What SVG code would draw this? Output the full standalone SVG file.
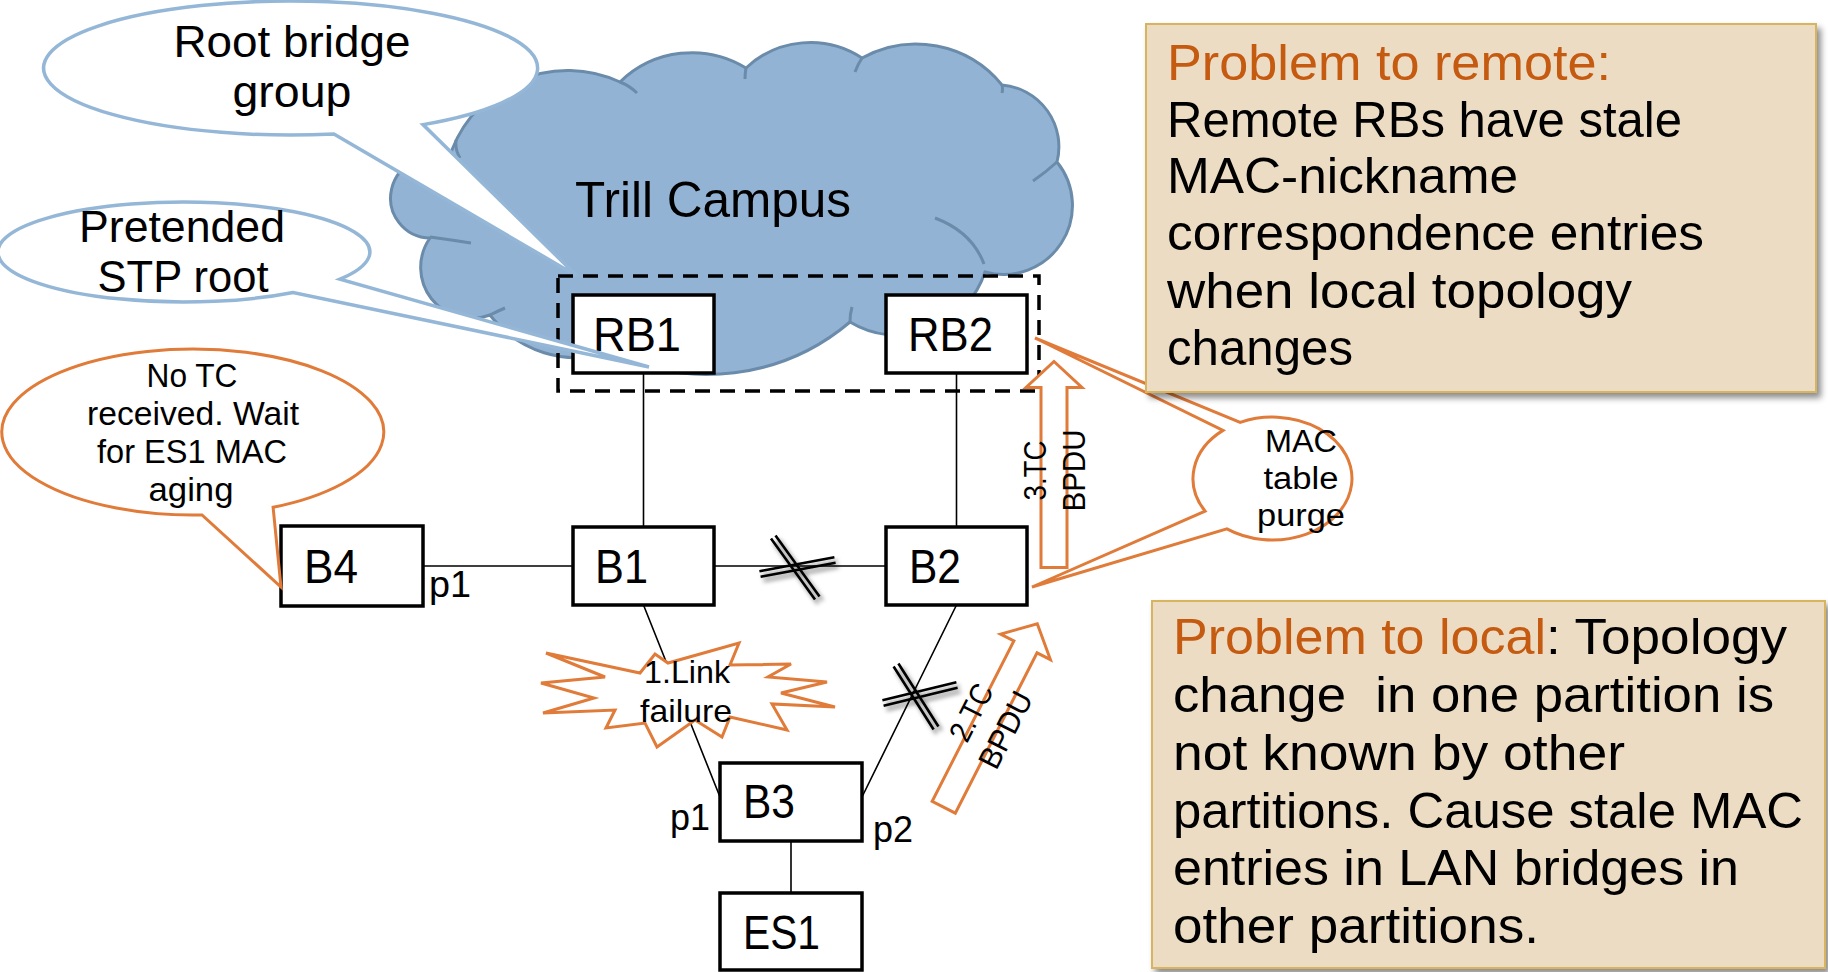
<svg xmlns="http://www.w3.org/2000/svg" width="1828" height="972" viewBox="0 0 1828 972">
<style>
.t{font-family:"Liberation Sans",Arial,sans-serif;fill:#000}
.node{fill:#fff;stroke:#000;stroke-width:3.5}
.conn{fill:none;stroke:#000;stroke-width:1.6}
.blue{fill:#fff;stroke:#95B7D7;stroke-width:3.5;stroke-linejoin:miter}
.org{fill:#fff;stroke:#E07B39;stroke-width:3;stroke-linejoin:miter}
.crease{fill:none;stroke:#6A8BAA;stroke-width:3}
.box{fill:#ECDCC3;stroke:#D9B45E;stroke-width:2}
.title{fill:#C55A11}
.brk{stroke:#000;stroke-width:2.6;fill:none}
</style>
<defs>
<filter id="sh" x="-10%" y="-10%" width="130%" height="130%">
<feDropShadow dx="4" dy="5" stdDeviation="3" flood-color="#000" flood-opacity="0.45"/>
</filter>
<filter id="xs" x="-30%" y="-30%" width="160%" height="160%">
<feDropShadow dx="3" dy="4" stdDeviation="2" flood-color="#000" flood-opacity="0.5"/>
</filter>
<path id="arr" d="M0,-103 L28,-77 L13,-77 L13,103 L-13,103 L-13,-77 L-28,-77 Z"/>
</defs>

<g id="cloud">
<path d="M430,238 A40,40 0 1 1 448,162 A124,124 0 0 1 620,82 A103,103 0 0 1 746,68 A94,94 0 0 1 862,58 A111,111 0 0 1 1002,85 A62,62 0 0 1 1057,162 A69,69 0 0 1 985,272 A92,92 0 0 1 850,322 A221,221 0 0 1 610,352 A108,108 0 0 1 490,315 A51,51 0 0 1 430,238 Z" fill="#93B3D4" stroke="#6A8BAA" stroke-width="3"/>
<path class="crease" d="M430,237 Q452,240 471,243 M456,140 Q455,150 460,158 M620,82 Q630,86 637,93 M746,68 Q745,73 745,79 M862,58 Q858,64 855,72 M1002,85 Q1003,89 1002,93 M1057,162 Q1046,172 1033,181 M935,218 Q972,232 984,264 M850,322 Q850,314 852,307 M490,315 Q498,311 505,308"/>
<text class="t" x="575" y="217" font-size="50" textLength="276" lengthAdjust="spacingAndGlyphs">Trill Campus</text>
</g>

<g id="root-callout">
<path class="blue" d="M333.9,134 A247,67 0 1 1 423,124.6 L577,276 Z"/>
<text class="t" x="292" y="57" font-size="44" text-anchor="middle" textLength="237" lengthAdjust="spacingAndGlyphs">Root bridge</text>
<text class="t" x="292" y="107" font-size="44" text-anchor="middle" textLength="119" lengthAdjust="spacingAndGlyphs">group</text>
</g>

<g id="connectors">
<path class="conn" d="M643.5,373 V527 M956.5,373 V527 M423,566 H573 M714,566 H886 M643.5,605 L720,797 M956.5,605 L862,797 M791,841 V893"/>
</g>

<g id="root-bridge-group">
<rect x="558" y="276" width="481" height="115" fill="none" stroke="#000" stroke-width="3.5" stroke-dasharray="15 10"/>
</g>

<g id="RB1"><rect class="node" x="573" y="295" width="141" height="78"/><text class="t" x="593" y="351" font-size="48" textLength="88" lengthAdjust="spacingAndGlyphs">RB1</text></g>
<g id="RB2"><rect class="node" x="886" y="295" width="141" height="78"/><text class="t" x="908" y="351" font-size="48" textLength="85" lengthAdjust="spacingAndGlyphs">RB2</text></g>
<g id="B1"><rect class="node" x="573" y="527" width="141" height="78"/><text class="t" x="595" y="583" font-size="48" textLength="53" lengthAdjust="spacingAndGlyphs">B1</text></g>
<g id="B2"><rect class="node" x="886" y="527" width="141" height="78"/><text class="t" x="909" y="583" font-size="48" textLength="52" lengthAdjust="spacingAndGlyphs">B2</text></g>
<g id="B3"><rect class="node" x="720" y="763" width="142" height="78"/><text class="t" x="743" y="818" font-size="48" textLength="52" lengthAdjust="spacingAndGlyphs">B3</text></g>
<g id="ES1"><rect class="node" x="720" y="893" width="142" height="77"/><text class="t" x="743" y="949" font-size="48" textLength="77" lengthAdjust="spacingAndGlyphs">ES1</text></g>
<g id="B4"><rect class="node" x="281" y="526" width="142" height="80"/><text class="t" x="304" y="583" font-size="48" textLength="54" lengthAdjust="spacingAndGlyphs">B4</text></g>

<g id="pretended-callout">
<path class="blue" d="M293.1,292.5 A186,50 0 1 1 340,279.2 L649,367 Z"/>
<text class="t" x="182" y="242" font-size="44" text-anchor="middle" textLength="206" lengthAdjust="spacingAndGlyphs">Pretended</text>
<text class="t" x="183" y="292" font-size="44" text-anchor="middle" textLength="171" lengthAdjust="spacingAndGlyphs">STP root</text>
</g>

<g id="notc-callout">
<path class="org" d="M202,514.9 A191,83 0 1 1 273.1,507.3 L281,587 Z"/>
<text class="t" x="192" y="387" font-size="33" text-anchor="middle" textLength="91" lengthAdjust="spacingAndGlyphs">No TC</text>
<text class="t" x="193" y="425" font-size="33" text-anchor="middle" textLength="212" lengthAdjust="spacingAndGlyphs">received. Wait</text>
<text class="t" x="192" y="463" font-size="33" text-anchor="middle" textLength="190" lengthAdjust="spacingAndGlyphs">for ES1 MAC</text>
<text class="t" x="191" y="501" font-size="33" text-anchor="middle" textLength="85" lengthAdjust="spacingAndGlyphs">aging</text>
</g>

<g id="link-failure">
<path class="org" d="M546,653 L640,673 L655,654 L668,663 L739,643 L730,665 L791,664 L768,677 L827,682 L781,693 L835,707 L772,704 L787,730 L730,717 L722,737 L695,720 L657,747 L645,723 L606,728 L615,710 L543,713 L594,698 L541,683 L605,677 Z"/>
<text class="t" x="687" y="683" font-size="32" text-anchor="middle" textLength="86" lengthAdjust="spacingAndGlyphs">1.Link</text>
<text class="t" x="686" y="722" font-size="32" text-anchor="middle" textLength="92" lengthAdjust="spacingAndGlyphs">failure</text>
</g>

<g id="breaks" filter="url(#xs)">
<path class="brk" d="M759.4,571.3 L834.4,557.3 M760.6,576.7 L835.6,562.7 M771,538.5 L815,599.5 M775.5,535.5 L819.5,596.5"/>
<path class="brk" d="M882.4,700.3 L956.4,682.3 M883.6,705.7 L957.6,687.7 M893.6,666.5 L933.6,729.5 M898.4,663.5 L938.4,726.5"/>
</g>

<g id="tc-bpdu-2" transform="translate(990.5,715.5) rotate(27)">
<use href="#arr" class="org"/>
<g transform="rotate(-90)">
<text class="t" x="-6" y="-8" font-size="31" text-anchor="middle" textLength="60" lengthAdjust="spacingAndGlyphs">2.TC</text>
<text class="t" x="-6" y="30.5" font-size="31" text-anchor="middle" textLength="82" lengthAdjust="spacingAndGlyphs">BPDU</text>
</g>
</g>

<g id="tc-bpdu-3" transform="translate(1054,464.5)">
<use href="#arr" class="org"/>
<g transform="rotate(-90)">
<text class="t" x="-6" y="-8" font-size="31" text-anchor="middle" textLength="60" lengthAdjust="spacingAndGlyphs">3.TC</text>
<text class="t" x="-6" y="30.5" font-size="31" text-anchor="middle" textLength="82" lengthAdjust="spacingAndGlyphs">BPDU</text>
</g>
</g>

<g id="mac-callout">
<path class="org" d="M1240.2,422.3 A79.5,61.5 0 1 1 1226.9,528.9 L1032,587 L1205.1,511.1 A79.5,61.5 0 0 1 1223,430.4 L1035,338 Z"/>
<text class="t" x="1301" y="452" font-size="31" text-anchor="middle" textLength="72" lengthAdjust="spacingAndGlyphs">MAC</text>
<text class="t" x="1301" y="489" font-size="31" text-anchor="middle" textLength="75" lengthAdjust="spacingAndGlyphs">table</text>
<text class="t" x="1301" y="526" font-size="31" text-anchor="middle" textLength="88" lengthAdjust="spacingAndGlyphs">purge</text>
</g>

<g id="problem-remote">
<rect class="box" x="1146" y="24" width="670" height="368" filter="url(#sh)"/>
<text class="t title" x="1167" y="80" font-size="50" textLength="444" lengthAdjust="spacingAndGlyphs">Problem to remote:</text>
<text class="t" x="1167" y="137" font-size="50" textLength="515" lengthAdjust="spacingAndGlyphs">Remote RBs have stale</text>
<text class="t" x="1167" y="193" font-size="50" textLength="351" lengthAdjust="spacingAndGlyphs">MAC-nickname</text>
<text class="t" x="1167" y="250" font-size="50" textLength="537" lengthAdjust="spacingAndGlyphs">correspondence entries</text>
<text class="t" x="1167" y="308" font-size="50" textLength="465" lengthAdjust="spacingAndGlyphs">when local topology</text>
<text class="t" x="1167" y="365" font-size="50" textLength="186" lengthAdjust="spacingAndGlyphs">changes</text>
</g>

<g id="problem-local">
<rect class="box" x="1152" y="601" width="673" height="367" filter="url(#sh)"/>
<text class="t title" x="1173" y="654" font-size="50" textLength="373" lengthAdjust="spacingAndGlyphs">Problem to local</text>
<text class="t" x="1546" y="654" font-size="50" textLength="241" lengthAdjust="spacingAndGlyphs" style="white-space:pre">: Topology</text>
<text class="t" x="1173" y="712" font-size="50" textLength="601" lengthAdjust="spacingAndGlyphs" style="white-space:pre">change  in one partition is</text>
<text class="t" x="1173" y="770" font-size="50" textLength="452" lengthAdjust="spacingAndGlyphs">not known by other</text>
<text class="t" x="1173" y="828" font-size="50" textLength="630" lengthAdjust="spacingAndGlyphs">partitions. Cause stale MAC</text>
<text class="t" x="1173" y="885" font-size="50" textLength="566" lengthAdjust="spacingAndGlyphs">entries in LAN bridges in</text>
<text class="t" x="1173" y="943" font-size="50" textLength="366" lengthAdjust="spacingAndGlyphs">other partitions.</text>
</g>

<g id="port-labels">
<text class="t" x="429" y="597" font-size="36" textLength="42" lengthAdjust="spacingAndGlyphs">p1</text>
<text class="t" x="670" y="830" font-size="36" textLength="40" lengthAdjust="spacingAndGlyphs">p1</text>
<text class="t" x="873" y="842" font-size="36" textLength="40" lengthAdjust="spacingAndGlyphs">p2</text>
</g>
</svg>
